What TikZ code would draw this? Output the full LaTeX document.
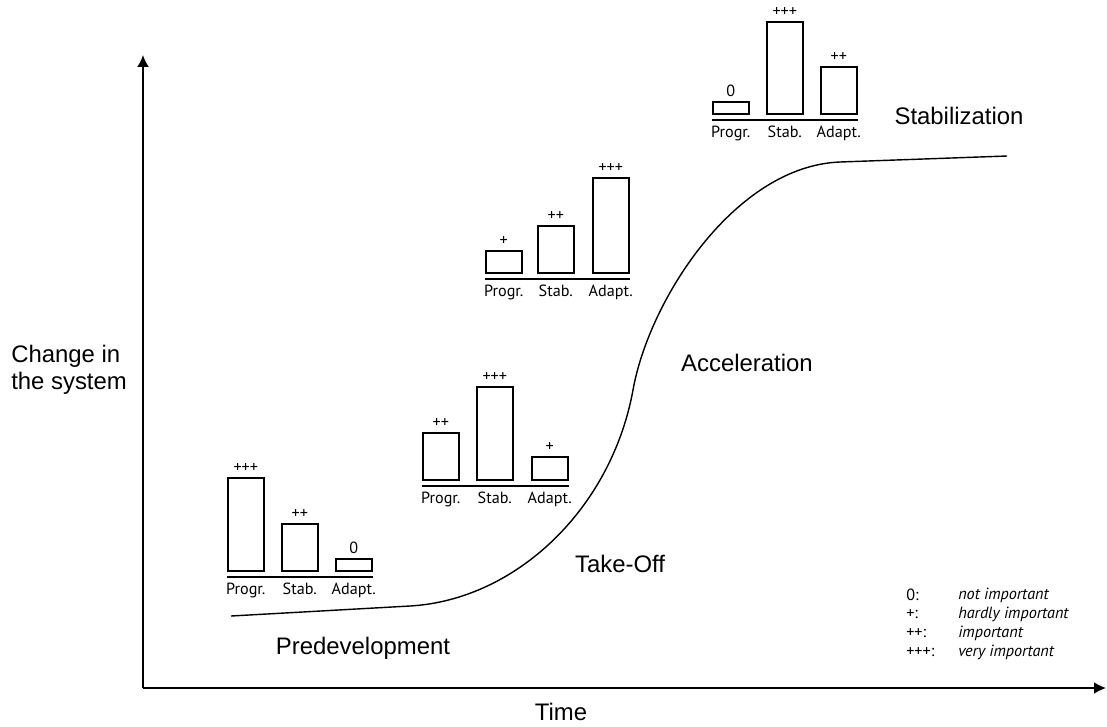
\documentclass[tikz,border=0pt]{standalone}
\usepackage{fontspec}
\setmainfont{Liberation Sans}
\newfontfamily\barfont{PT Sans}
\usetikzlibrary{positioning, arrows.meta, calc}

\begin{document}
\begin{tikzpicture}[
  x=0.025cm, y=-0.025cm,
  font=\fontsize{17}{19.5}\selectfont,
  axis/.style={line width=1.3pt, -{Latex[length=8.5pt, width=8.5pt]}},
  curve/.style={line width=1pt},
  bar/.style={draw, line width=1.1pt, minimum width=0.9cm, inner sep=0pt,
              anchor=south west},
  groundline/.style={line width=1.1pt},
  val/.style={anchor=south, inner sep=0pt, yshift=3.5pt,
              font=\barfont\fontsize{11.5}{13}\selectfont},
  cat/.style={anchor=north, inner sep=0pt,
              font=\barfont\fontsize{11.5}{13}\selectfont},
  phase/.style={inner sep=0pt},
  legkey/.style={anchor=west, inner sep=0pt,
                 font=\barfont\fontsize{11.5}{13}\selectfont},
  legtext/.style={legkey, font=\barfont\itshape\fontsize{11.5}{13}\selectfont},
]
\useasboundingbox (0,0) rectangle (1107,726);

% Axes
\coordinate (O) at (143,688);
\coordinate (ytip) at (143,55);
\coordinate (xtip) at (1106,688);
\draw[axis] (O) -- (ytip);
\draw[axis] (O) -- (xtip);
\node[anchor=west, align=left, inner sep=0pt] (ylab) at (11,370)
  {Change in\\the system};
\node[phase] (xlab) at (561,712) {Time};

% S-curve of the transition
\draw[curve] (231,616) -- (410,606)
  .. controls (515,600) and (611,510) .. (633,390)
  .. controls (649,300) and (735,166) .. (840,162)
  -- (1007,156);

% Phase names
\node[phase] (predev) at (363,648) {Predevelopment};
\node[phase] (takeoff) at (620,564) {Take-Off};
\node[phase] (accel) at (747,363) {Acceleration};
\node[phase] (stabil) at (959,116) {Stabilization};

% Bars: predevelopment
\foreach \n/\dx/\h/\v/\t in {p/0/93/+++/Progr., s/54/47/++/Stab., a/108/12/0/Adapt.} {
  \node[bar, minimum height=\h*0.025cm] (pre\n) at (227+\dx,572) {};
  \node[val] at (pre\n.north) {\v};
  \node[cat] at ($(pre\n.south)+(0,11)$) {\t};
}
\draw[groundline] ($(prep.south west)+(0,5)$) -- ($(prea.south east)+(0,5)$);

% Bars: take-off
\foreach \n/\dx/\h/\v/\t in {p/0/47/++/Progr., s/54/93/+++/Stab., a/109/23/+/Adapt.} {
  \node[bar, minimum height=\h*0.025cm] (tak\n) at (422+\dx,481) {};
  \node[val] at (tak\n.north) {\v};
  \node[cat] at ($(tak\n.south)+(0,11)$) {\t};
}
\draw[groundline] ($(takp.south west)+(0,5)$) -- ($(taka.south east)+(0,5)$);

% Bars: acceleration
\foreach \n/\dx/\h/\v/\t in {p/0/22/+/Progr., s/52/47/++/Stab., a/107/95/+++/Adapt.} {
  \node[bar, minimum height=\h*0.025cm] (acc\n) at (485+\dx,274) {};
  \node[val] at (acc\n.north) {\v};
  \node[cat] at ($(acc\n.south)+(0,11)$) {\t};
}
\draw[groundline] ($(accp.south west)+(0,5)$) -- ($(acca.south east)+(0,5)$);

% Bars: stabilization
\foreach \n/\dx/\h/\v/\t in {p/0/12/0/Progr., s/54/92/+++/Stab., a/108/47/++/Adapt.} {
  \node[bar, minimum height=\h*0.025cm] (sta\n) at (712+\dx,115) {};
  \node[val] at (sta\n.north) {\v};
  \node[cat] at ($(sta\n.south)+(0,11)$) {\t};
}
\draw[groundline] ($(stap.south west)+(0,5)$) -- ($(staa.south east)+(0,5)$);

% Legend
\node[legkey] (k0) at (906,595) {0:};
\node[legkey] (k1) at (906,614) {+:};
\node[legkey] (k2) at (906,633) {++:};
\node[legkey] (k3) at (906,652) {+++:};
\node[legtext] (t0) at (958,595) {not important};
\node[legtext] (t1) at (958,614) {hardly important};
\node[legtext] (t2) at (958,633) {important};
\node[legtext] (t3) at (958,652) {very important};
\end{tikzpicture}
\end{document}
